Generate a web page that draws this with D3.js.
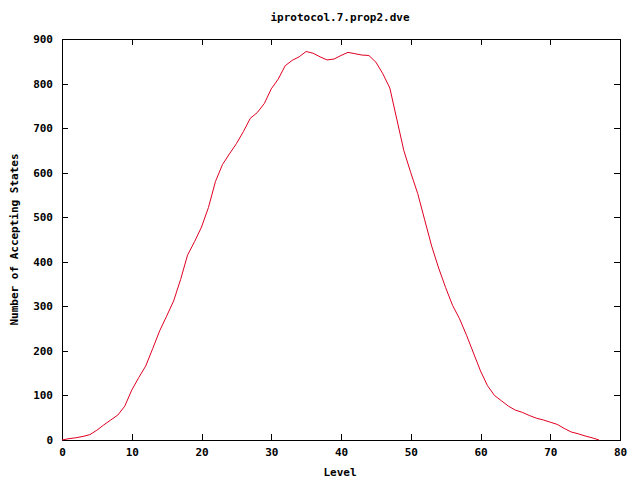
<!DOCTYPE html>
<html>
<head>
<meta charset="utf-8">
<script src="https://cdn.jsdelivr.net/npm/d3@7"></script>
<style>
  body { margin: 0; background: #fff; }
  text { font-family: "DejaVu Sans Mono", monospace; font-weight: bold; font-size: 11px; fill: #000; }
</style>
</head>
<body>
<script>
// levels and accepting states
var levels = d3.range(0, 78);
var states = [0, 3, 5, 8, 12, 22, 34, 45, 56, 76,
  112, 140, 166, 205, 245, 278, 312, 360, 415, 445,
  478, 522, 580, 618, 642, 665, 692, 722, 735, 755,
  788, 810, 840, 852, 860, 872, 868, 860, 853, 855,
  863, 870, 867, 864, 863, 848, 822, 790, 720, 650,
  600, 553, 494, 435, 386, 342, 302, 272, 235, 195,
  155, 122, 100, 88, 76, 67, 62, 55, 49, 45,
  40, 35, 26, 18, 14, 9, 5, 0];
var xTicks = [0, 10, 20, 30, 40, 50, 60, 70, 80];
var yTicks = [0, 100, 200, 300, 400, 500, 600, 700, 800, 900];

var width = 640, height = 480;
var plotLeft = 62, plotRight = 620, plotTop = 39, plotBottom = 440; //"top" is taken by window.top
var tickLen = 6;

var svg = d3.select("body").append("svg")
    .attr("width", width)
    .attr("height", height);

var x = d3.scaleLinear().domain([0, 80]).range([plotLeft, plotRight]);
var y = d3.scaleLinear().domain([0, 900]).range([plotBottom, plotTop]);

//bottom and top axes, ticks pointing in
svg.append("g")
    .attr("transform", "translate(0," + plotBottom + ")")
    .call(d3.axisBottom(x).tickValues(xTicks).tickSizeInner(-tickLen).tickSizeOuter(0).tickPadding(8))
    .call(function(g){ g.select(".domain").remove(); });
svg.append("g")
    .attr("transform", "translate(0," + plotTop + ")")
    .call(d3.axisTop(x).tickValues(xTicks).tickSizeInner(-tickLen).tickSizeOuter(0).tickFormat(""))
    .call(function(g){ g.select(".domain").remove(); });

//left and right axes
svg.append("g")
    .attr("transform", "translate(" + plotLeft + ",0)")
    .call(d3.axisLeft(y).tickValues(yTicks).tickSizeInner(-tickLen).tickSizeOuter(0).tickPadding(9))
    .call(function(g){ g.select(".domain").remove(); });
svg.append("g")
    .attr("transform", "translate(" + plotRight + ",0)")
    .call(d3.axisRight(y).tickValues(yTicks).tickSizeInner(-tickLen).tickSizeOuter(0).tickFormat(""))
    .call(function(g){ g.select(".domain").remove(); });

svg.selectAll(".tick line").attr("stroke", "#000").attr("shape-rendering", "crispEdges");
svg.selectAll(".tick text").style("font-family", "DejaVu Sans Mono").style("font-weight", "bold").style("font-size", "11px");

//plot border
svg.append("rect")
    .attr("x", plotLeft + 0.5)
    .attr("y", plotTop + 0.5)
    .attr("width", plotRight - plotLeft)
    .attr("height", plotBottom - plotTop)
    .attr("fill", "none")
    .attr("stroke", "#000")
    .attr("shape-rendering", "crispEdges");

//data line
var line = d3.line()
    .x(function(d, i){ return x(levels[i]); })
    .y(function(d){ return y(d); });

svg.append("path")
    .datum(states)
    .attr("d", line)
    .attr("fill", "none")
    .attr("stroke", "#e00020")
    .attr("stroke-width", 1);

//title and axis labels
svg.append("text")
    .attr("x", 340).attr("y", 21)
    .attr("text-anchor", "middle")
    .text("iprotocol.7.prop2.dve");

svg.append("text")
    .attr("x", 340).attr("y", 476)
    .attr("text-anchor", "middle")
    .text("Level");

svg.append("text")
    .attr("transform", "translate(18," + ((plotTop + plotBottom) / 2) + ") rotate(-90)")
    .attr("text-anchor", "middle")
    .text("Number of Accepting States");
</script>
</body>
</html>
